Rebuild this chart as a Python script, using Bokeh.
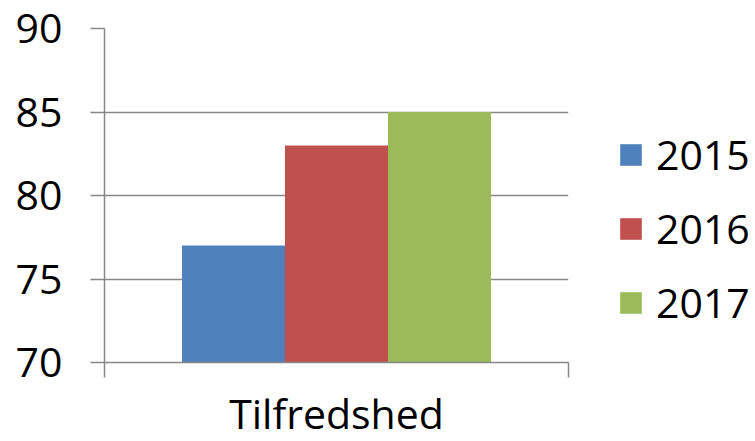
from bokeh.plotting import figure
from bokeh.models import Range1d, FixedTicker, Legend, LegendItem, ColumnDataSource
from bokeh.embed import file_html
from bokeh.resources import INLINE

categories = ["Tilfredshed"]
years = ["2015", "2016", "2017"]
values = [77, 83, 85]
colors = ["#4F81BD", "#C0504D", "#9BBB59"]
y_ticks = [70, 75, 80, 85, 90]

FONT = "Open Sans"
FS = "41px"
GRAY = "#878787"

p = figure(width=755, height=441, output_backend="svg", toolbar_location=None,
           x_range=Range1d(-0.5, 0.5), y_range=Range1d(70, 90),
           min_border_left=104, min_border_top=28, min_border_bottom=79, min_border_right=187)
p.frame_width = 464
p.frame_height = 334
p.outline_line_color = None

bar_w = 0.222
renderers = []
for i, (yr, v, c) in enumerate(zip(years, values, colors)):
    src = ColumnDataSource(dict(x=[(i - 1) * bar_w], top=[v]))
    r = p.vbar(x="x", top="top", bottom=70, width=bar_w, source=src,
               fill_color=c, line_color=None)
    renderers.append(r)

# y axis
p.yaxis.ticker = FixedTicker(ticks=y_ticks)
p.yaxis.axis_line_color = GRAY
p.yaxis.axis_line_width = 1.5
p.yaxis.major_tick_line_color = GRAY
p.yaxis.major_tick_line_width = 1.5
p.yaxis.major_tick_out = 14
p.yaxis.major_tick_in = 0
p.yaxis.minor_tick_line_color = None
p.yaxis.major_label_text_font = FONT
p.yaxis.major_label_text_font_size = FS
p.yaxis.major_label_text_color = "black"
p.yaxis.major_label_standoff = 28

# x axis: ticks at the category boundaries, category name as label
p.xaxis.ticker = FixedTicker(ticks=[-0.5, 0.5])
p.xaxis.major_label_overrides = {-0.5: "", 0.5: ""}
p.xaxis.major_label_text_font_size = "1px"
p.xaxis.axis_line_color = GRAY
p.xaxis.axis_line_width = 1.5
p.xaxis.major_tick_line_color = GRAY
p.xaxis.major_tick_line_width = 1.5
p.xaxis.major_tick_out = 15
p.xaxis.major_tick_in = 0
p.xaxis.minor_tick_line_color = None
p.xaxis.axis_label = categories[0]
p.xaxis.axis_label_text_font = FONT
p.xaxis.axis_label_text_font_size = FS
p.xaxis.axis_label_text_font_style = "normal"
p.xaxis.axis_label_text_color = "black"
p.xaxis.axis_label_standoff = 7

p.xgrid.grid_line_color = None
p.ygrid.ticker = FixedTicker(ticks=y_ticks)
p.ygrid.grid_line_color = GRAY
p.ygrid.grid_line_width = 1.5

legend = Legend(items=[LegendItem(label=yr, renderers=[r]) for yr, r in zip(years, renderers)],
                location=(49, 32), orientation="vertical")
legend.glyph_width = 27
legend.glyph_height = 27
legend.label_text_font = FONT
legend.label_text_font_size = FS
legend.label_text_color = "black"
legend.label_text_baseline = "middle"
legend.label_standoff = 12
legend.spacing = 18
legend.padding = 0
legend.margin = 0
legend.border_line_color = None
legend.background_fill_alpha = 0
legend.label_height = 56
p.add_layout(legend, "right")

open("out.html", "w").write(file_html(p, INLINE))
